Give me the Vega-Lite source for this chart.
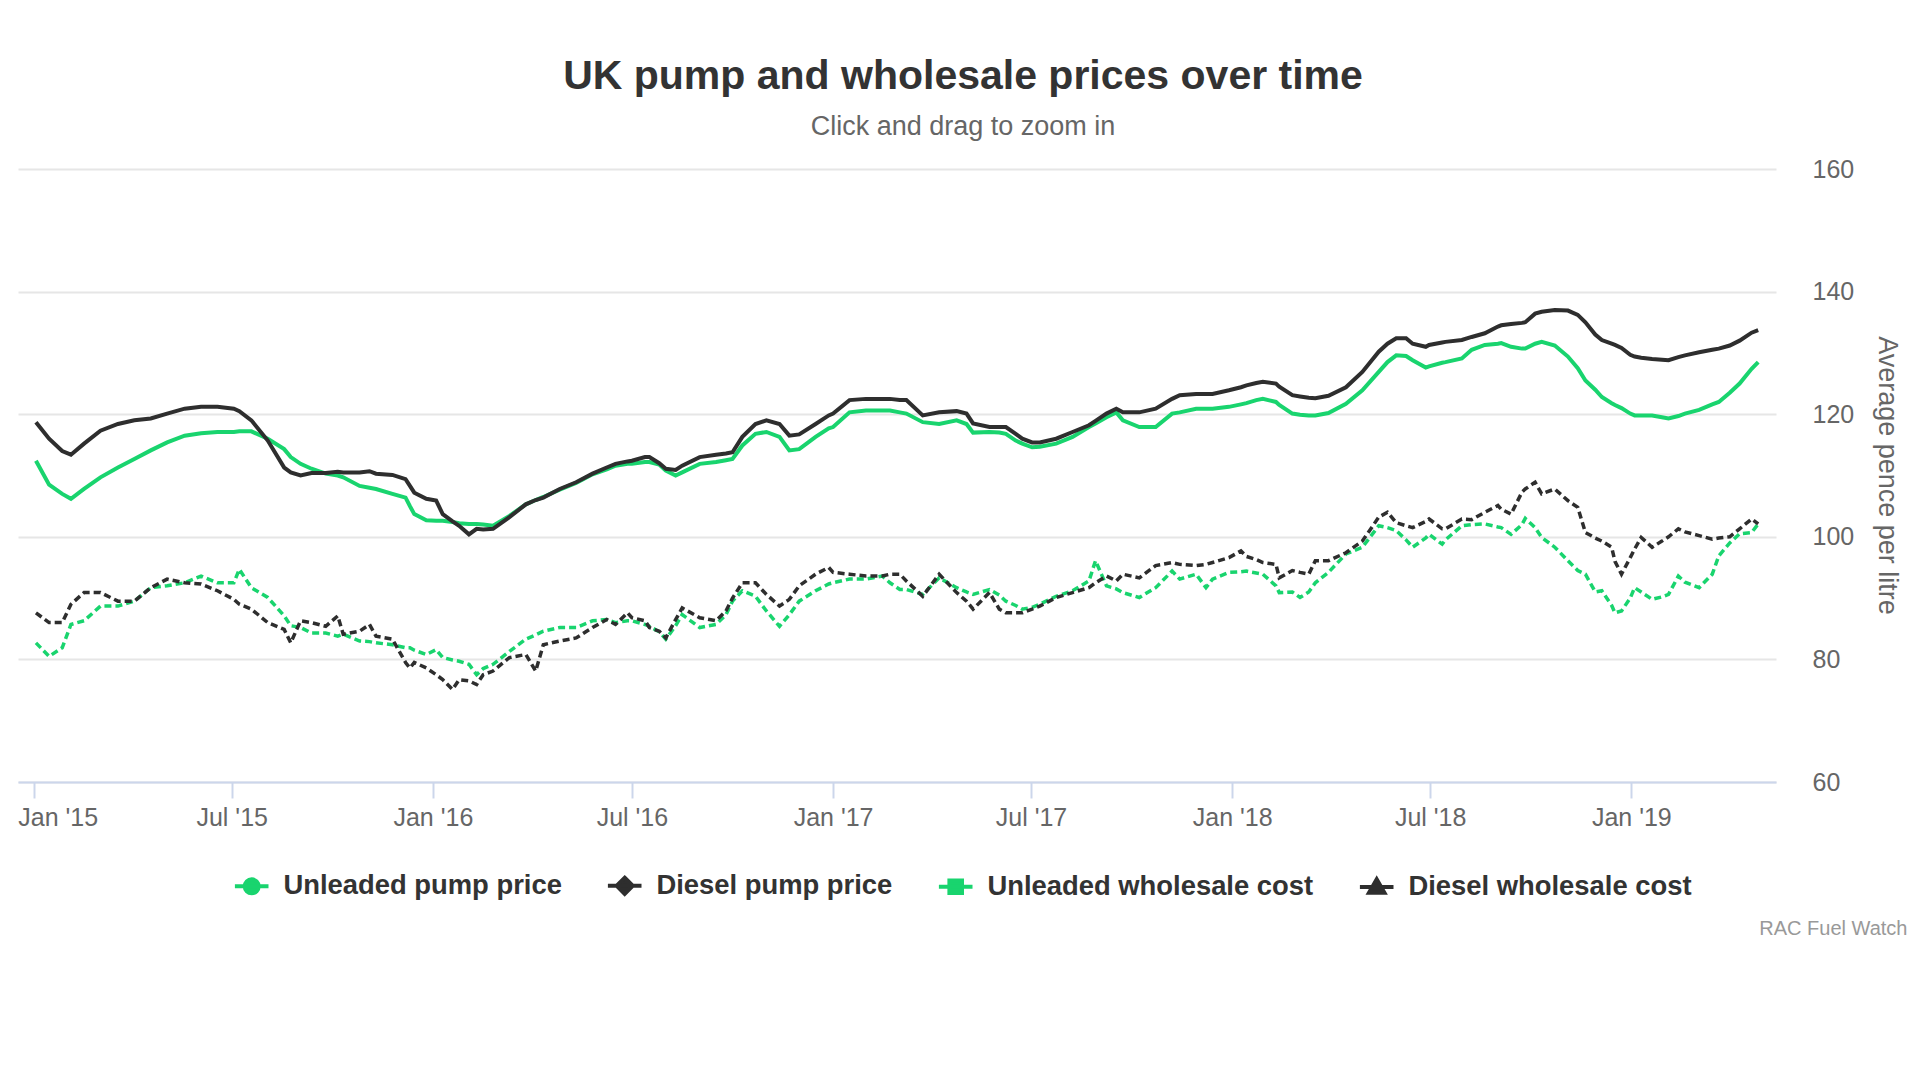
{
  "$schema": "https://vega.github.io/schema/vega-lite/v6.json",
  "width": 1758,
  "height": 613,
  "autosize": {"type": "none"},
  "padding": {"left": 18, "top": 169, "right": 144, "bottom": 298},
  "background": "white",
  "config": {
    "font": "Liberation Sans",
    "view": {"stroke": null},
    "legend": {
      "orient": "none",
      "legendX": 220,
      "legendY": 703,
      "direction": "horizontal",
      "padding": 0,
      "symbolSize": 196,
      "symbolStrokeWidth": 4,
      "labelFont": "Liberation Sans",
      "labelFontSize": 27.4,
      "labelFontWeight": "bold",
      "labelColor": "#333333",
      "labelOffset": 18,
      "columnPadding": 37,
      "labelLimit": 600
    }
  },
  "title": {
    "text": "UK pump and wholesale prices over time",
    "subtitle": "Click and drag to zoom in",
    "anchor": "middle",
    "frame": "group",
    "dx": 66,
    "offset": 16,
    "font": "Liberation Sans",
    "fontSize": 41,
    "fontWeight": "bold",
    "color": "#333333",
    "subtitleFont": "Liberation Sans",
    "subtitleFontSize": 27,
    "subtitleColor": "#666666",
    "subtitlePadding": 16
  },
  "data": {
    "values": [
      {"d":"2015-01-03","p1":112.4,"p2":118.7,"w1":82.7,"w2":87.6},
      {"d":"2015-01-15","p1":108.5,"p2":116.0,"w1":80.5,"w2":86.0},
      {"d":"2015-01-27","p1":107.0,"p2":114.0,"w1":81.9,"w2":86.0},
      {"d":"2015-02-04","p1":106.2,"p2":113.4,"w1":85.7,"w2":89.0},
      {"d":"2015-02-16","p1":107.8,"p2":115.2,"w1":86.3,"w2":90.9},
      {"d":"2015-03-03","p1":109.7,"p2":117.3,"w1":88.7,"w2":90.9},
      {"d":"2015-03-19","p1":111.3,"p2":118.4,"w1":88.7,"w2":89.5},
      {"d":"2015-04-03","p1":112.7,"p2":119.0,"w1":89.5,"w2":89.5},
      {"d":"2015-04-18","p1":114.1,"p2":119.3,"w1":91.7,"w2":91.7},
      {"d":"2015-05-03","p1":115.4,"p2":120.1,"w1":92.0,"w2":93.1},
      {"d":"2015-05-19","p1":116.5,"p2":120.9,"w1":92.5,"w2":92.5},
      {"d":"2015-06-03","p1":116.9,"p2":121.2,"w1":93.6,"w2":92.3},
      {"d":"2015-06-18","p1":117.1,"p2":121.2,"w1":92.5,"w2":91.2},
      {"d":"2015-07-03","p1":117.1,"p2":120.9,"w1":92.5,"w2":89.8},
      {"d":"2015-07-08","p1":117.2,"p2":120.5,"w1":94.7,"w2":89.0},
      {"d":"2015-07-19","p1":117.2,"p2":119.0,"w1":91.7,"w2":88.2},
      {"d":"2015-08-03","p1":116.0,"p2":115.7,"w1":90.1,"w2":86.0},
      {"d":"2015-08-18","p1":114.3,"p2":111.3,"w1":87.1,"w2":84.9},
      {"d":"2015-08-24","p1":113.0,"p2":110.5,"w1":85.5,"w2":82.7},
      {"d":"2015-09-02","p1":111.9,"p2":110.0,"w1":85.2,"w2":86.3},
      {"d":"2015-09-12","p1":111.1,"p2":110.4,"w1":84.3,"w2":86.0},
      {"d":"2015-09-25","p1":110.3,"p2":110.4,"w1":84.3,"w2":85.4},
      {"d":"2015-10-06","p1":110.0,"p2":110.6,"w1":83.8,"w2":87.1},
      {"d":"2015-10-11","p1":109.7,"p2":110.5,"w1":84.1,"w2":84.1},
      {"d":"2015-10-26","p1":108.3,"p2":110.5,"w1":83.0,"w2":84.6},
      {"d":"2015-11-04","p1":108.0,"p2":110.7,"w1":82.9,"w2":85.7},
      {"d":"2015-11-10","p1":107.8,"p2":110.3,"w1":82.7,"w2":83.8},
      {"d":"2015-11-25","p1":107.0,"p2":110.1,"w1":82.4,"w2":83.3},
      {"d":"2015-12-07","p1":106.4,"p2":109.4,"w1":81.9,"w2":79.5},
      {"d":"2015-12-11","p1":105.0,"p2":108.3,"w1":81.9,"w2":78.6},
      {"d":"2015-12-15","p1":103.7,"p2":107.2,"w1":81.5,"w2":79.5},
      {"d":"2015-12-26","p1":102.7,"p2":106.2,"w1":80.8,"w2":78.6},
      {"d":"2016-01-04","p1":102.6,"p2":105.9,"w1":81.6,"w2":77.5},
      {"d":"2016-01-10","p1":102.6,"p2":103.7,"w1":80.3,"w2":76.7},
      {"d":"2016-01-19","p1":102.4,"p2":102.5,"w1":79.9,"w2":75.1},
      {"d":"2016-01-25","p1":102.2,"p2":101.8,"w1":79.7,"w2":76.7},
      {"d":"2016-02-03","p1":102.1,"p2":100.4,"w1":79.2,"w2":76.5},
      {"d":"2016-02-10","p1":102.1,"p2":101.3,"w1":77.5,"w2":75.9},
      {"d":"2016-02-16","p1":102.0,"p2":101.2,"w1":78.5,"w2":77.5},
      {"d":"2016-02-25","p1":101.8,"p2":101.3,"w1":79.2,"w2":78.1},
      {"d":"2016-03-11","p1":103.4,"p2":103.2,"w1":81.3,"w2":80.3},
      {"d":"2016-03-26","p1":105.3,"p2":105.3,"w1":83.3,"w2":80.8},
      {"d":"2016-04-04","p1":106.0,"p2":106.0,"w1":84.0,"w2":78.1},
      {"d":"2016-04-11","p1":106.5,"p2":106.4,"w1":84.6,"w2":82.4},
      {"d":"2016-04-26","p1":107.7,"p2":107.8,"w1":85.2,"w2":83.0},
      {"d":"2016-05-11","p1":108.8,"p2":108.9,"w1":85.2,"w2":83.5},
      {"d":"2016-05-26","p1":110.2,"p2":110.3,"w1":86.3,"w2":85.2},
      {"d":"2016-06-08","p1":111.0,"p2":111.3,"w1":86.5,"w2":86.5},
      {"d":"2016-06-16","p1":111.6,"p2":111.9,"w1":86.0,"w2":85.7},
      {"d":"2016-06-27","p1":111.9,"p2":112.3,"w1":86.3,"w2":87.6},
      {"d":"2016-07-01","p1":111.9,"p2":112.4,"w1":86.3,"w2":86.8},
      {"d":"2016-07-13","p1":112.2,"p2":113.0,"w1":85.7,"w2":86.3},
      {"d":"2016-07-17","p1":112.2,"p2":113.0,"w1":85.4,"w2":85.2},
      {"d":"2016-07-26","p1":111.8,"p2":112.0,"w1":84.5,"w2":84.6},
      {"d":"2016-08-01","p1":110.8,"p2":111.1,"w1":83.3,"w2":83.5},
      {"d":"2016-08-10","p1":110.0,"p2":110.9,"w1":85.5,"w2":86.5},
      {"d":"2016-08-16","p1":110.5,"p2":111.6,"w1":87.3,"w2":88.4},
      {"d":"2016-09-01","p1":111.9,"p2":113.0,"w1":85.2,"w2":86.8},
      {"d":"2016-09-16","p1":112.2,"p2":113.4,"w1":85.7,"w2":86.3},
      {"d":"2016-09-25","p1":112.5,"p2":113.6,"w1":87.3,"w2":87.9},
      {"d":"2016-10-01","p1":112.7,"p2":113.8,"w1":89.5,"w2":90.0},
      {"d":"2016-10-10","p1":114.9,"p2":116.3,"w1":91.2,"w2":92.5},
      {"d":"2016-10-22","p1":116.8,"p2":118.4,"w1":90.3,"w2":92.5},
      {"d":"2016-11-01","p1":117.1,"p2":119.0,"w1":87.9,"w2":90.6},
      {"d":"2016-11-13","p1":116.3,"p2":118.4,"w1":85.4,"w2":88.7},
      {"d":"2016-11-22","p1":114.1,"p2":116.5,"w1":87.3,"w2":89.8},
      {"d":"2016-12-01","p1":114.3,"p2":116.7,"w1":89.5,"w2":92.0},
      {"d":"2016-12-16","p1":116.3,"p2":118.4,"w1":91.2,"w2":93.9},
      {"d":"2016-12-28","p1":117.7,"p2":119.8,"w1":92.3,"w2":95.0},
      {"d":"2017-01-01","p1":117.9,"p2":120.1,"w1":92.5,"w2":94.2},
      {"d":"2017-01-16","p1":120.3,"p2":122.3,"w1":93.1,"w2":93.9},
      {"d":"2017-01-31","p1":120.6,"p2":122.5,"w1":93.1,"w2":93.6},
      {"d":"2017-02-15","p1":120.6,"p2":122.5,"w1":93.6,"w2":93.6},
      {"d":"2017-02-22","p1":120.6,"p2":122.5,"w1":92.5,"w2":93.9},
      {"d":"2017-03-03","p1":120.3,"p2":122.3,"w1":91.4,"w2":93.9},
      {"d":"2017-03-09","p1":120.1,"p2":122.3,"w1":91.4,"w2":92.8},
      {"d":"2017-03-24","p1":118.7,"p2":119.8,"w1":90.6,"w2":90.3},
      {"d":"2017-04-08","p1":118.4,"p2":120.3,"w1":93.3,"w2":93.9},
      {"d":"2017-04-24","p1":119.0,"p2":120.5,"w1":91.7,"w2":90.9},
      {"d":"2017-05-03","p1":118.4,"p2":120.1,"w1":91.0,"w2":89.5},
      {"d":"2017-05-09","p1":117.0,"p2":118.5,"w1":90.6,"w2":88.2},
      {"d":"2017-05-24","p1":117.1,"p2":117.9,"w1":91.4,"w2":90.9},
      {"d":"2017-06-02","p1":117.0,"p2":117.9,"w1":90.5,"w2":88.2},
      {"d":"2017-06-08","p1":116.8,"p2":117.9,"w1":89.5,"w2":87.6},
      {"d":"2017-06-17","p1":115.7,"p2":116.8,"w1":88.8,"w2":87.6},
      {"d":"2017-06-23","p1":115.2,"p2":116.0,"w1":88.2,"w2":87.6},
      {"d":"2017-07-02","p1":114.6,"p2":115.4,"w1":88.5,"w2":88.2},
      {"d":"2017-07-09","p1":114.7,"p2":115.4,"w1":89.0,"w2":88.7},
      {"d":"2017-07-24","p1":115.2,"p2":116.0,"w1":90.3,"w2":90.1},
      {"d":"2017-08-08","p1":116.3,"p2":117.1,"w1":91.2,"w2":90.9},
      {"d":"2017-08-23","p1":117.9,"p2":118.2,"w1":92.8,"w2":91.7},
      {"d":"2017-08-29","p1":118.5,"p2":118.9,"w1":96.1,"w2":92.5},
      {"d":"2017-09-08","p1":119.5,"p2":120.1,"w1":92.0,"w2":93.6},
      {"d":"2017-09-17","p1":120.3,"p2":120.9,"w1":91.5,"w2":92.8},
      {"d":"2017-09-23","p1":119.0,"p2":120.3,"w1":90.9,"w2":93.9},
      {"d":"2017-10-08","p1":117.9,"p2":120.3,"w1":90.1,"w2":93.3},
      {"d":"2017-10-23","p1":117.9,"p2":120.9,"w1":91.7,"w2":95.3},
      {"d":"2017-11-07","p1":120.1,"p2":122.5,"w1":94.4,"w2":95.8},
      {"d":"2017-11-14","p1":120.3,"p2":123.1,"w1":93.1,"w2":95.5},
      {"d":"2017-11-29","p1":120.9,"p2":123.3,"w1":93.9,"w2":95.3},
      {"d":"2017-12-08","p1":120.9,"p2":123.3,"w1":91.7,"w2":95.5},
      {"d":"2017-12-14","p1":120.9,"p2":123.3,"w1":93.1,"w2":95.8},
      {"d":"2017-12-29","p1":121.2,"p2":123.9,"w1":94.2,"w2":96.6},
      {"d":"2018-01-09","p1":121.6,"p2":124.4,"w1":94.3,"w2":97.7},
      {"d":"2018-01-14","p1":121.8,"p2":124.7,"w1":94.4,"w2":96.8},
      {"d":"2018-01-23","p1":122.3,"p2":125.1,"w1":94.1,"w2":96.3},
      {"d":"2018-01-29","p1":122.5,"p2":125.3,"w1":93.9,"w2":95.8},
      {"d":"2018-02-10","p1":122.0,"p2":125.0,"w1":92.0,"w2":95.5},
      {"d":"2018-02-13","p1":121.5,"p2":124.5,"w1":90.9,"w2":93.3},
      {"d":"2018-02-25","p1":120.1,"p2":123.1,"w1":91.0,"w2":94.5},
      {"d":"2018-03-04","p1":119.9,"p2":122.9,"w1":90.1,"w2":94.2},
      {"d":"2018-03-12","p1":119.8,"p2":122.7,"w1":91.0,"w2":93.9},
      {"d":"2018-03-18","p1":119.8,"p2":122.6,"w1":92.5,"w2":96.1},
      {"d":"2018-03-30","p1":120.2,"p2":123.0,"w1":94.2,"w2":96.1},
      {"d":"2018-04-15","p1":121.7,"p2":124.4,"w1":97.2,"w2":97.4},
      {"d":"2018-04-30","p1":123.9,"p2":126.9,"w1":98.3,"w2":99.3},
      {"d":"2018-05-15","p1":126.9,"p2":130.2,"w1":101.8,"w2":103.2},
      {"d":"2018-05-23","p1":128.5,"p2":131.5,"w1":101.5,"w2":104.0},
      {"d":"2018-05-31","p1":129.6,"p2":132.4,"w1":101.0,"w2":102.3},
      {"d":"2018-06-09","p1":129.5,"p2":132.4,"w1":99.5,"w2":101.8},
      {"d":"2018-06-15","p1":128.8,"p2":131.5,"w1":98.3,"w2":101.5},
      {"d":"2018-06-27","p1":127.6,"p2":131.0,"w1":99.8,"w2":102.5},
      {"d":"2018-06-30","p1":127.8,"p2":131.3,"w1":100.4,"w2":102.9},
      {"d":"2018-07-12","p1":128.4,"p2":131.7,"w1":98.8,"w2":101.3},
      {"d":"2018-07-15","p1":128.5,"p2":131.8,"w1":99.5,"w2":101.3},
      {"d":"2018-07-30","p1":129.1,"p2":132.1,"w1":101.8,"w2":102.9},
      {"d":"2018-08-08","p1":130.5,"p2":132.6,"w1":102.0,"w2":102.8},
      {"d":"2018-08-20","p1":131.3,"p2":133.2,"w1":102.1,"w2":104.0},
      {"d":"2018-09-01","p1":131.5,"p2":134.3,"w1":101.6,"w2":105.1},
      {"d":"2018-09-04","p1":131.6,"p2":134.5,"w1":101.5,"w2":104.5},
      {"d":"2018-09-13","p1":131.0,"p2":134.7,"w1":100.4,"w2":103.7},
      {"d":"2018-09-23","p1":130.7,"p2":134.9,"w1":102.0,"w2":107.3},
      {"d":"2018-09-26","p1":130.7,"p2":135.0,"w1":103.0,"w2":107.8},
      {"d":"2018-10-05","p1":131.5,"p2":136.4,"w1":101.5,"w2":108.9},
      {"d":"2018-10-11","p1":131.8,"p2":136.7,"w1":99.9,"w2":107.0},
      {"d":"2018-10-23","p1":131.2,"p2":137.0,"w1":98.3,"w2":107.8},
      {"d":"2018-11-04","p1":129.4,"p2":136.9,"w1":96.1,"w2":105.9},
      {"d":"2018-11-13","p1":127.5,"p2":136.2,"w1":94.5,"w2":104.8},
      {"d":"2018-11-20","p1":125.5,"p2":135.0,"w1":93.9,"w2":100.7},
      {"d":"2018-11-29","p1":124.0,"p2":133.0,"w1":91.0,"w2":99.8},
      {"d":"2018-12-05","p1":122.8,"p2":132.1,"w1":91.2,"w2":99.3},
      {"d":"2018-12-14","p1":121.8,"p2":131.5,"w1":88.8,"w2":98.3},
      {"d":"2018-12-17","p1":121.5,"p2":131.3,"w1":87.6,"w2":96.0},
      {"d":"2018-12-23","p1":121.0,"p2":130.8,"w1":87.9,"w2":93.9},
      {"d":"2018-12-31","p1":120.1,"p2":129.7,"w1":90.0,"w2":96.6},
      {"d":"2019-01-04","p1":119.8,"p2":129.4,"w1":91.7,"w2":98.0},
      {"d":"2019-01-10","p1":119.8,"p2":129.2,"w1":91.0,"w2":99.9},
      {"d":"2019-01-20","p1":119.8,"p2":129.0,"w1":89.8,"w2":98.3},
      {"d":"2019-01-29","p1":119.5,"p2":128.9,"w1":90.2,"w2":99.3},
      {"d":"2019-02-04","p1":119.3,"p2":128.8,"w1":90.6,"w2":100.0},
      {"d":"2019-02-13","p1":119.7,"p2":129.3,"w1":93.6,"w2":101.3},
      {"d":"2019-02-19","p1":120.1,"p2":129.6,"w1":92.6,"w2":100.8},
      {"d":"2019-03-04","p1":120.7,"p2":130.1,"w1":91.7,"w2":100.2},
      {"d":"2019-03-16","p1":121.6,"p2":130.5,"w1":93.9,"w2":99.6},
      {"d":"2019-03-22","p1":122.0,"p2":130.7,"w1":96.9,"w2":99.8},
      {"d":"2019-04-01","p1":123.5,"p2":131.2,"w1":99.0,"w2":100.0},
      {"d":"2019-04-10","p1":125.0,"p2":132.0,"w1":100.5,"w2":101.3},
      {"d":"2019-04-21","p1":127.4,"p2":133.3,"w1":100.7,"w2":102.9},
      {"d":"2019-04-27","p1":128.5,"p2":133.7,"w1":102.1,"w2":102.1}
    ]
  },
  "transform": [{"fold": ["p1", "p2", "w1", "w2"], "as": ["k", "v"]}],
  "encoding": {
    "x": {
      "field": "d",
      "type": "temporal",
      "scale": {"domain": [{"year": 2014, "month": 12, "date": 17, "hours": 14}, {"year": 2019, "month": 5, "date": 13, "hours": 7}]},
      "axis": {
        "values": [
          {"year": 2015, "month": 1, "date": 1}, {"year": 2015, "month": 7, "date": 1},
          {"year": 2016, "month": 1, "date": 1}, {"year": 2016, "month": 7, "date": 1},
          {"year": 2017, "month": 1, "date": 1}, {"year": 2017, "month": 7, "date": 1},
          {"year": 2018, "month": 1, "date": 1}, {"year": 2018, "month": 7, "date": 1},
          {"year": 2019, "month": 1, "date": 1}
        ],
        "format": "%b '%y",
        "grid": false,
        "domainColor": "#ccd6eb",
        "domainWidth": 2,
        "tickColor": "#ccd6eb",
        "tickWidth": 2,
        "tickSize": 16,
        "labelFont": "Liberation Sans",
        "labelFontSize": 25,
        "labelColor": "#666666",
        "labelPadding": 7,
        "labelFlush": false,
        "labelOverlap": false,
        "labelAlign": {"condition": {"test": "datum.value < 1420300000000", "value": "left"}, "value": "center"},
        "labelOffset": {"condition": {"test": "datum.value < 1420300000000", "value": -16}, "value": 0},
        "title": "RAC Fuel Watch",
        "titleFont": "Liberation Sans",
        "titleFontSize": 20,
        "titleFontWeight": "normal",
        "titleColor": "#999999",
        "titleX": 1889,
        "titleY": 152,
        "titleAlign": "right",
        "titleBaseline": "alphabetic",
        "titleAnchor": "end"
      }
    },
    "y": {
      "field": "v",
      "type": "quantitative",
      "scale": {"domain": [60, 160], "nice": false, "zero": false},
      "axis": {
        "orient": "right",
        "values": [60, 80, 100, 120, 140, 160],
        "domain": false,
        "ticks": false,
        "grid": true,
        "gridColor": "#e6e6e6",
        "gridWidth": 2,
        "labelFont": "Liberation Sans",
        "labelFontSize": 25,
        "labelColor": "#666666",
        "labelPadding": 36,
        "title": "Average pence per litre",
        "titleFont": "Liberation Sans",
        "titleFontSize": 27,
        "titleFontWeight": "normal",
        "titleColor": "#666666",
        "titleX": 110,
        "titleY": 306,
        "titleAngle": 90,
        "titleAlign": "center",
        "titleBaseline": "middle"
      }
    },
    "color": {
      "field": "k",
      "type": "nominal",
      "scale": {"domain": ["p1", "p2", "w1", "w2"], "range": ["#19d46e", "#2e2e2e", "#19d46e", "#2e2e2e"]},
      "legend": {
        "title": null,
        "labelExpr": "datum.label == 'p1' ? 'Unleaded pump price' : datum.label == 'p2' ? 'Diesel pump price' : datum.label == 'w1' ? 'Unleaded wholesale cost' : 'Diesel wholesale cost'",
        "encode": {
          "symbols": {
            "update": {
              "stroke": {"scale": "color", "field": "value"},
              "fill": {"scale": "color", "field": "value"},
              "strokeWidth": {"value": 4},
              "opacity": {"value": 1}
            }
          }
        }
      }
    }
  },
  "layer": [
    {
      "transform": [{"filter": "datum.k == 'p1' || datum.k == 'p2'"}],
      "mark": {"type": "line", "strokeWidth": 4}
    },
    {
      "transform": [{"filter": "datum.k == 'w1' || datum.k == 'w2'"}],
      "mark": {"type": "line", "strokeWidth": 3.5, "strokeDash": [7, 4]}
    },
    {
      "transform": [{"filter": "false"}],
      "mark": {"type": "point", "filled": true, "opacity": 1},
      "encoding": {
        "shape": {
          "field": "k",
          "type": "nominal",
          "scale": {
            "domain": ["p1", "p2", "w1", "w2"],
            "range": [
              "M-2.4,0H2.4M-1,0A1,1 0 1,1 1,0A1,1 0 1,1 -1,0Z",
              "M-2.4,0H2.4M0,-1.15L1.15,0L0,1.15L-1.15,0Z",
              "M-2.4,0H2.4M-0.9,-0.9H0.9V0.9H-0.9Z",
              "M-2.4,0H2.4M0,-1.1L1.1,0.8H-1.1Z"
            ]
          },
          "legend": {
            "title": null,
            "labelExpr": "datum.label == 'p1' ? 'Unleaded pump price' : datum.label == 'p2' ? 'Diesel pump price' : datum.label == 'w1' ? 'Unleaded wholesale cost' : 'Diesel wholesale cost'",
            "encode": {
              "symbols": {
                "update": {
                  "stroke": {"scale": "color", "field": "value"},
                  "fill": {"scale": "color", "field": "value"},
                  "strokeWidth": {"value": 4},
                  "opacity": {"value": 1}
                }
              }
            }
          }
        }
      }
    }
  ]
}
